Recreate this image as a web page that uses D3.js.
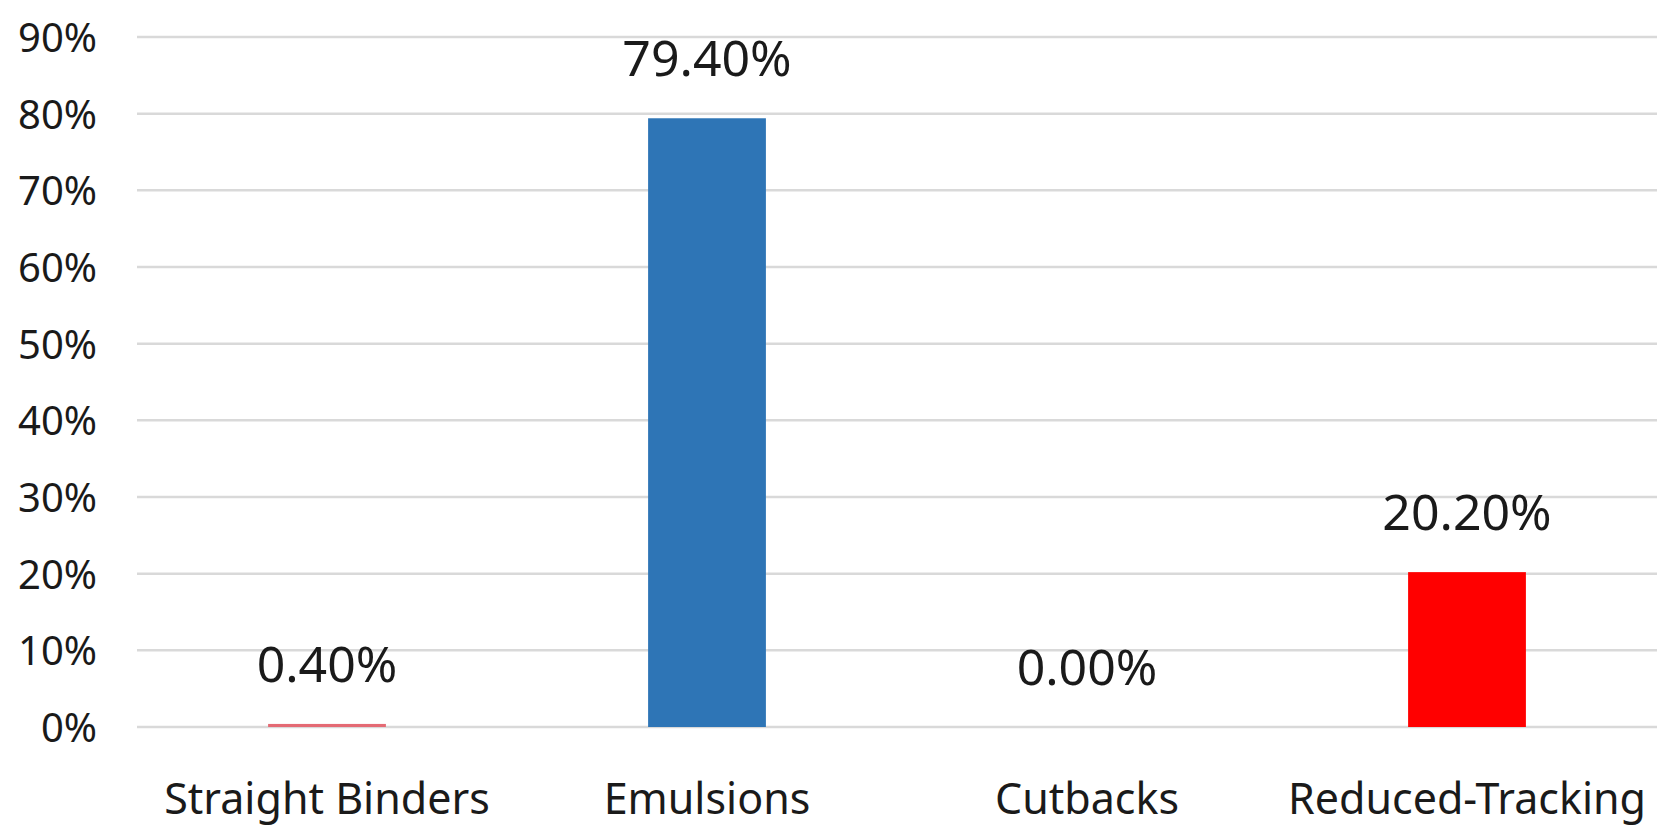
<!DOCTYPE html>
<head>
  <meta charset="UTF-8" />
  <script src="https://d3js.org/d3.v7.min.js"></script>
  <style>
    body {
      margin: 0;
      background: #fff;
    }
    text {
      font-family: "Noto Sans", "Open Sans", sans-serif;
      fill: #1a1a1a;
    }
  </style>
</head>

<body>
  <script>
    var width = 1657,
      height = 830;

    // data
    var categories = ["Straight Binders", "Emulsions", "Cutbacks", "Reduced-Tracking"];
    var values = [0.004, 0.794, 0.0, 0.202];
    var labels = ["0.40%", "79.40%", "0.00%", "20.20%"];
    var barColors = ["#e46a74", "#2e75b6", "#a5a5a5", "#ff0000"];
    var yTicks = [0, 0.1, 0.2, 0.3, 0.4, 0.5, 0.6, 0.7, 0.8, 0.9];

    var svg = d3
      .select("body")
      .append("svg")
      .attr("width", width)
      .attr("height", height);

    var x = d3
      .scaleBand()
      .domain(categories)
      .range([137, 1657])
      .paddingInner(0.69)
      .paddingOuter(0.345);

    var y = d3.scaleLinear().domain([0, 0.9]).range([727, 37]);

    // gridlines
    svg
      .append("g")
      .selectAll("line")
      .data(yTicks)
      .enter()
      .append("line")
      .attr("x1", 137)
      .attr("x2", width)
      .attr("y1", function (d) { return y(d); })
      .attr("y2", function (d) { return y(d); })
      .style("stroke", "#d9d9d9")
      .style("stroke-width", "2.5px");

    // y axis labels
    var yAxis = d3
      .axisLeft(y)
      .tickValues(yTicks)
      .tickFormat(d3.format(".0%"))
      .tickSize(0)
      .tickPadding(0);

    var ya = svg.append("g").attr("transform", "translate(97,0)").call(yAxis);
    ya.select(".domain").remove();
    ya.selectAll("text")
      .style("font-size", "40px")
      .style("font-family", '"Noto Sans", sans-serif')
      .style("fill", "#1a1a1a")
      .attr("dy", "0.36em");

    // bars
    svg
      .append("g")
      .selectAll("rect")
      .data(values)
      .enter()
      .append("rect")
      .attr("x", function (d, i) { return x(categories[i]); })
      .attr("width", x.bandwidth())
      .attr("y", function (d) { return y(d); })
      .attr("height", function (d) { return y(0) - y(d); })
      .style("fill", function (d, i) { return barColors[i]; });

    // data labels
    svg
      .append("g")
      .selectAll("text")
      .data(values)
      .enter()
      .append("text")
      .attr("x", function (d, i) { return x(categories[i]) + x.bandwidth() / 2; })
      .attr("y", function (d) { return y(d) - 42; })
      .attr("text-anchor", "middle")
      .style("font-size", "50px")
      .text(function (d, i) { return labels[i]; });

    // x axis labels
    var xAxis = d3.axisBottom(x).tickSize(0).tickPadding(0);
    var xa = svg.append("g").attr("transform", "translate(0,814)").call(xAxis);
    xa.select(".domain").remove();
    xa.selectAll("text")
      .attr("dy", 0)
      .attr("y", 0)
      .style("font-size", "43px")
      .style("font-family", '"Noto Sans", sans-serif')
      .style("fill", "#1a1a1a");
  </script>
</body>
